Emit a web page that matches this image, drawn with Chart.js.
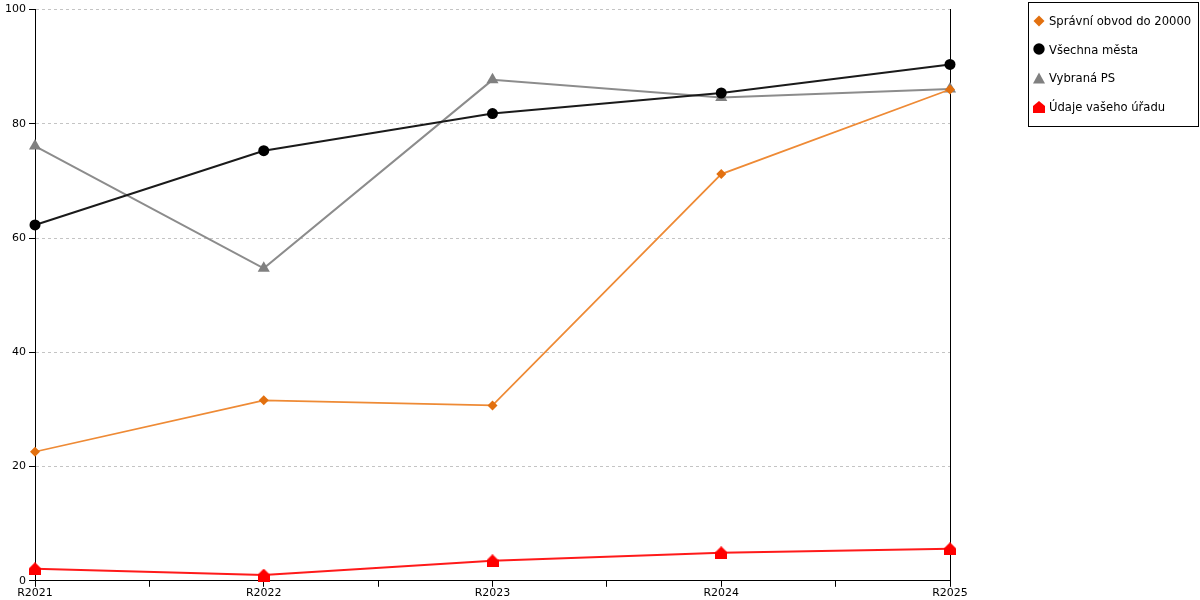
<!DOCTYPE html>
<html>
<head>
<meta charset="utf-8">
<script src="https://cdn.jsdelivr.net/npm/chart.js@4"></script>
<style>
  body { margin: 0; background: #fff; font-family: "DejaVu Sans", sans-serif; }
  #wrap { position: relative; width: 1200px; height: 600px; }
  #legend {
    position: absolute; left: 1028px; top: 2px; width: 169px; height: 119px;
    border: 1px solid #000; padding-top: 4px; box-sizing: content-box;
    font-size: 11.6px; color: #000;
  }
  #legend div { height: 28.7px; line-height: 28.7px; padding-left: 4px; white-space: nowrap; }
  #legend svg { vertical-align: middle; margin-right: 4px; position: relative; top: -1px; }
</style>
</head>
<body>
<div id="wrap">
  <canvas id="chart" width="1200" height="600"></canvas>
  <div id="legend"></div>
</div>
<script>
/* ========= DATA ========= */
const categories = ["R2021", "R2022", "R2023", "R2024", "R2025"];
const yTicks = [0, 20, 40, 60, 80, 100];

const seriesNames = ["Správní obvod do 20000", "Všechna města", "Vybraná PS", "Údaje vašeho úřadu"];
const spravniObvod = [22.6, 31.6, 30.7, 71.2, 86.0];
const vsechnaMesta = [62.3, 75.3, 81.8, 85.4, 90.4];
const vybranaPS = [76.1, 54.7, 87.7, 84.6, 86.1];
const udajeUradu = [2.1, 1.0, 3.5, 4.9, 5.6];

/* ========= MARKERS ========= */
function houseMarker(color) {
  const c = document.createElement("canvas");
  c.width = 12; c.height = 13;
  const g = c.getContext("2d");
  g.fillStyle = color;
  g.beginPath();
  g.moveTo(6, 0);
  g.lineTo(12, 6);
  g.lineTo(12, 13);
  g.lineTo(0, 13);
  g.lineTo(0, 6);
  g.closePath();
  g.fill();
  return c;
}

const toPoints = arr => arr.map((v, i) => ({ x: i, y: v }));

const datasets = [
  { label: seriesNames[0], data: toPoints(spravniObvod), borderColor: "#ee8a35", backgroundColor: "#e2700f",
    borderWidth: 1.7, pointStyle: "rectRot", pointRadius: 5, pointBorderWidth: 0 },
  { label: seriesNames[1], data: toPoints(vsechnaMesta), borderColor: "#1a1a1a", backgroundColor: "#000",
    borderWidth: 2, pointStyle: "circle", pointRadius: 5.5, pointBorderWidth: 0 },
  { label: seriesNames[2], data: toPoints(vybranaPS), borderColor: "#8c8c8c", backgroundColor: "#808080",
    borderWidth: 2, pointStyle: "triangle", pointRadius: 7, pointBorderWidth: 0 },
  { label: seriesNames[3], data: toPoints(udajeUradu), borderColor: "#ff1a1a", backgroundColor: "#ff0000",
    borderWidth: 2, pointStyle: houseMarker("#ff0000"), pointRadius: 6, pointBorderWidth: 0 }
];
datasets.forEach(d => { d.tension = 0; d.fill = false; d.clip = false; });

/* ========= CHART ========= */
Chart.defaults.font.family = "'DejaVu Sans', sans-serif";
Chart.defaults.font.size = 11;
Chart.defaults.color = "#000";

new Chart(document.getElementById("chart"), {
  type: "line",
  data: { datasets },
  options: {
    responsive: false,
    animation: false,
    layout: { padding: { left: 0, right: 250, top: 4, bottom: 0 } },
    plugins: { legend: { display: false }, tooltip: { enabled: false } },
    scales: {
      x: {
        type: "linear",
        min: 0, max: categories.length - 1,
        afterBuildTicks: axis => {
          axis.ticks = [];
          for (let i = 0; i <= (categories.length - 1) * 2; i++) axis.ticks.push({ value: i / 2 });
        },
        ticks: {
          autoSkip: false, maxRotation: 0, padding: 0,
          callback: v => Number.isInteger(v) ? categories[v] : ""
        },
        grid: { drawOnChartArea: false, color: "#000", tickLength: 6 },
        border: { color: "#000", width: 1 }
      },
      y: {
        min: 0, max: 100,
        afterBuildTicks: axis => { axis.ticks = yTicks.map(v => ({ value: v })); },
        ticks: { padding: 3 },
        afterFit: axis => { axis.width = 35; },
        grid: { color: "#c4c4c4", tickColor: "#000", tickBorderDash: [], tickLength: 6 },
        border: { color: "#000", width: 1, dash: [3, 3] }
      },
      y2: {
        position: "right",
        min: 0, max: 100,
        ticks: { display: false },
        grid: { display: false },
        afterFit: axis => { axis.width = 0; },
        border: { display: true, color: "#000", width: 1 }
      }
    }
  }
});

/* ========= LEGEND ========= */
const legendIcons = [
  '<svg width="12" height="12"><polygon points="6,0.5 11.5,6 6,11.5 0.5,6" fill="#e2700f"/></svg>',
  '<svg width="12" height="12"><circle cx="6" cy="6" r="5.7" fill="#000"/></svg>',
  '<svg width="12" height="12"><polygon points="6,0.5 12,11.5 0,11.5" fill="#808080"/></svg>',
  '<svg width="12" height="12"><polygon points="6,0 12,5 12,12 0,12 0,5" fill="#ff0000"/></svg>'
];
document.getElementById("legend").innerHTML = seriesNames
  .map((n, i) => `<div>${legendIcons[i]}${n}</div>`).join("");
</script>
</body>
</html>
